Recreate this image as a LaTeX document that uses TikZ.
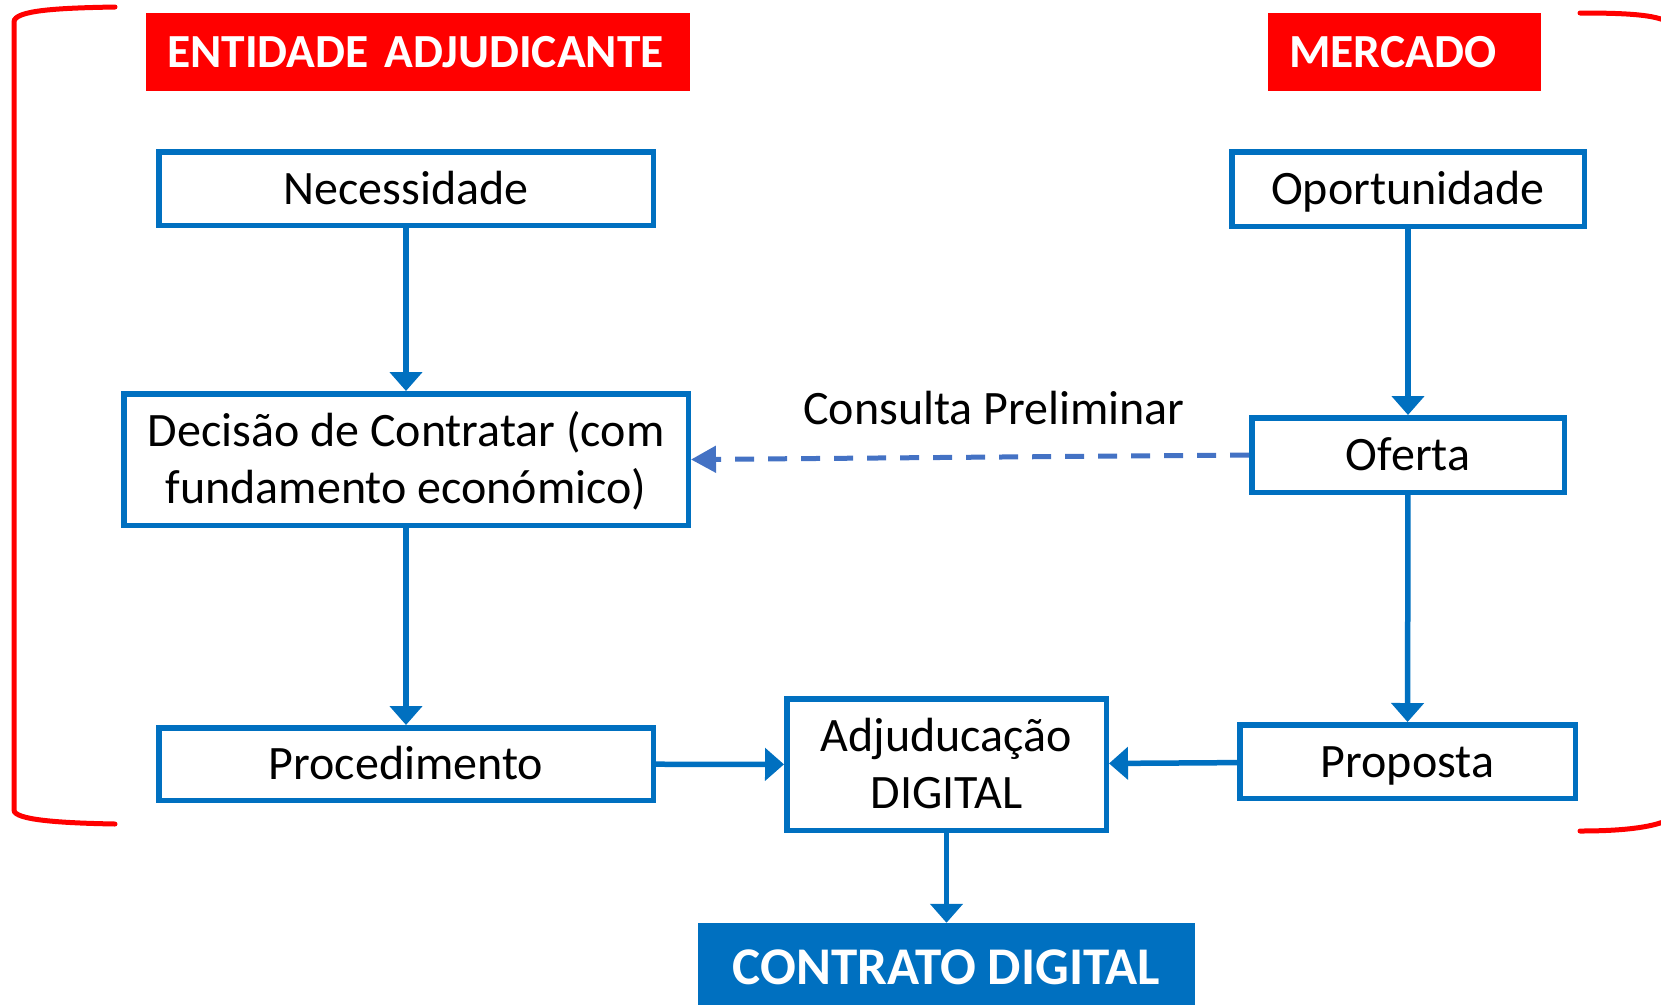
\documentclass[tikz,border=0pt]{standalone}
\usepackage{fontspec}
\setmainfont{Carlito}
\usetikzlibrary{arrows.meta}
\definecolor{bluebox}{HTML}{0070C0}
\definecolor{redc}{HTML}{FF0000}
\definecolor{dashc}{HTML}{4472C4}
\begin{document}
\begin{tikzpicture}[x=1pt,y=-1pt,
  stepbox/.style={draw=bluebox, line width=5.5pt, fill=white, inner sep=0pt,
    font=\fontsize{48}{57}\selectfont, text height=31pt, text depth=0pt, align=center},
  twoline/.style={text height=88pt, text depth=0pt},
  titlebox/.style={fill=redc, text=white, font=\bfseries\fontsize{47.5}{57}\selectfont,
    inner ysep=0pt, inner xsep=21pt, align=left, text height=31pt, text depth=0pt,
    minimum height=78pt},
  flow/.style={draw=bluebox, line width=5.5pt, -{Triangle[length=19pt,width=32pt]}},
  consult/.style={draw=dashc, line width=5pt, dash pattern=on 19pt off 14pt,
    -{Triangle[length=25pt,width=26pt]}},
  bracket/.style={draw=redc, line width=5pt, line cap=round}
]
\useasboundingbox (0,0) rectangle (1661,1004);

% brackets
\draw[bracket] (115,7) .. controls (60,8) and (14,10) .. (14,22) -- (14,810)
  .. controls (14,820) and (60,823) .. (115,824);
\draw[bracket] (1580,13) .. controls (1630,13) and (1655,15) .. (1668,22) -- (1668,820)
  .. controls (1655,826) and (1630,831) .. (1580,831);

% titles
\node[titlebox, text width=502pt, anchor=north west] (ent) at (146,13) {ENTIDADE ADJUDICANTE};
\node[titlebox, text width=231pt, anchor=north west] (merc) at (1268,13) {MERCADO};

% boxes
\node[stepbox, minimum width=494.5pt, minimum height=73.5pt] (nec) at (406,188.5) {Necessidade};
\node[stepbox, twoline, minimum width=564.5pt, minimum height=131.5pt] (dec) at (406,459.5)
  {Decisão de Contratar (com\\fundamento económico)};
\node[stepbox, minimum width=494.5pt, minimum height=72.5pt] (proc) at (406,764) {Procedimento};
\node[stepbox, twoline, minimum width=319.5pt, minimum height=131.5pt] (adj) at (946.5,764.5)
  {Adjuducação\\DIGITAL};
\node[stepbox, minimum width=352.5pt, minimum height=74.5pt] (opo) at (1408,189) {Oportunidade};
\node[stepbox, minimum width=312.5pt, minimum height=74.5pt] (ofe) at (1408,455) {Oferta};
\node[stepbox, minimum width=335.5pt, minimum height=73.5pt] (prop) at (1407.5,761.5) {Proposta};
\node[fill=bluebox, text=white, font=\bfseries\fontsize{53}{60}\selectfont, inner sep=0pt,
  text height=34pt, text depth=0pt, minimum width=497pt, minimum height=88pt]
  (con) at (946.5,967) {CONTRATO DIGITAL};

% label
\node[font=\fontsize{48}{57}\selectfont, inner sep=0pt, text height=31pt, text depth=0pt]
  (lab) at (994,409) {Consulta Preliminar};

% connectors
\draw[flow] (nec) -- (dec);
\draw[flow] (dec) -- (proc);
\draw[flow] (opo) -- (ofe);
\draw[flow] (ofe) -- (prop);
\draw[flow] (proc) -- (adj);
\draw[flow] (prop) -- (adj);
\draw[flow] (adj) -- (con);
\draw[consult] (ofe.west) -- (dec.east);
\end{tikzpicture}
\end{document}
